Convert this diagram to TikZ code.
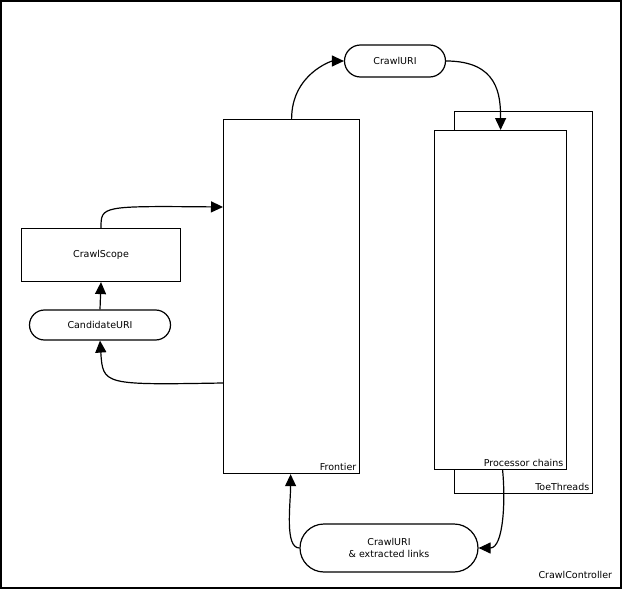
\documentclass[tikz,border=0pt]{standalone}
\usepackage{fontspec}
\setmainfont{DejaVu Sans}
\usetikzlibrary{arrows.meta}
\begin{document}
\begin{tikzpicture}[x=1pt,y=-1pt,line width=1.2pt,
      every node/.append style={font=\fontsize{9.5}{12}\selectfont},
      flow/.style={-{Triangle[length=12pt,width=11pt]},line width=1.2pt},
      box/.style={draw,rectangle,inner sep=0pt,anchor=north west},
      pill/.style={draw,rectangle,align=center}]
    \useasboundingbox (0,0) rectangle (622,589);
    \draw (1,1) rectangle (621,588);
    \node (controller) [anchor=south east] at (616,583) {CrawlController};
    % frontier and threads
    \node (frontier) [box,minimum width=136pt,minimum height=354pt] at (223,119) {};
    \node [anchor=south east] at (frontier.south east) {Frontier};
    \node (threads) [box,fill=white,minimum width=138pt,minimum height=382pt] at (454,111) {};
    \node [anchor=south east] at (threads.south east) {ToeThreads};
    \node (chains) [box,fill=white,minimum width=132pt,minimum height=339pt] at (434,130) {};
    \node [anchor=south east] at (chains.south east) {Processor chains};
    % uris
    \node (crawluri) [pill,minimum width=101pt,minimum height=32pt,rounded corners=16pt] at (395,61) {CrawlURI};
    \node (links) [pill,minimum width=178pt,minimum height=48pt,rounded corners=24pt] at (389,548) {CrawlURI\\\& extracted links};
    \node (scope) [draw,minimum width=159pt,minimum height=53pt] at (101,255) {CrawlScope};
    \node (candidate) [pill,minimum width=141pt,minimum height=30pt,rounded corners=15pt] at (100,325) {CandidateURI};
    % connectors
    \draw[flow] (frontier.north) .. controls +(0,-45) and +(-12,0) .. (crawluri.west);
    \draw[flow] (crawluri.east) .. controls +(52,0) and +(0,-35) .. (chains.north);
    \draw[flow] ([xshift=2pt]chains.south) .. controls +(3,30) and +(25,0) .. (links.east);
    \draw[flow] (links.west) .. controls +(-15,0) and +(0,30) .. ([xshift=-1pt]frontier.south);
    \draw[flow] ([yshift=-264pt]frontier.north west) .. controls +(-120,2) .. (candidate.south);
    \draw[flow] (candidate.north) -- (scope.south);
    \draw[flow] (scope.north) .. controls +(0,-22) .. ([yshift=-88pt]frontier.north west);
\end{tikzpicture}
\end{document}
